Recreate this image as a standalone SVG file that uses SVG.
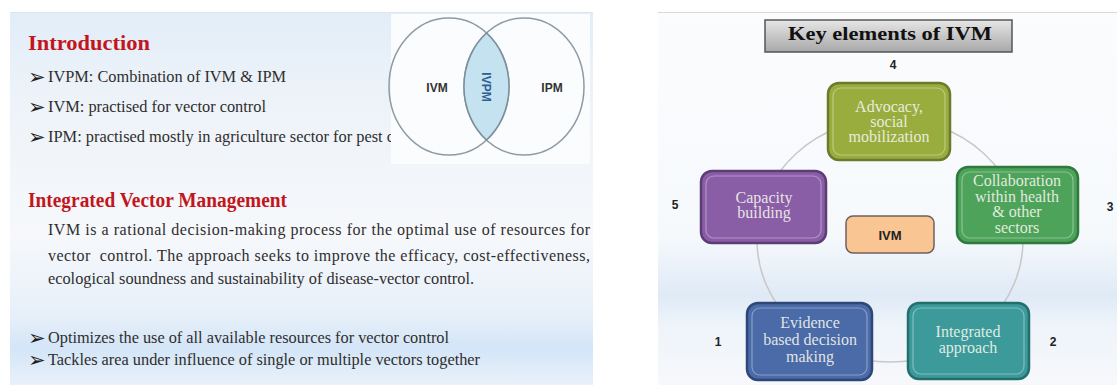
<svg xmlns="http://www.w3.org/2000/svg" width="1117" height="385" viewBox="0 0 1117 385">
<defs>
<linearGradient id="bgL" x1="0" y1="0" x2="0" y2="1">
<stop offset="0" stop-color="#e2edf8"/>
<stop offset="0.25" stop-color="#eef3f9"/>
<stop offset="0.6" stop-color="#f6f8fb"/>
<stop offset="0.82" stop-color="#e6eff9"/>
<stop offset="0.9" stop-color="#d3e5f7"/>
<stop offset="1" stop-color="#e9f1fa"/>
</linearGradient>
<linearGradient id="bgR" x1="0" y1="0" x2="0" y2="1">
<stop offset="0" stop-color="#fbfcfe"/>
<stop offset="0.6" stop-color="#f6f9fc"/>
<stop offset="0.76" stop-color="#dfeaf6"/>
<stop offset="0.84" stop-color="#eef4fa"/>
<stop offset="1" stop-color="#f7f8fb"/>
</linearGradient>
<linearGradient id="title" x1="0" y1="0" x2="0" y2="1">
<stop offset="0" stop-color="#e6e6e6"/>
<stop offset="1" stop-color="#a8a8a8"/>
</linearGradient>
<style>
.h{font-family:"Liberation Serif",serif;font-weight:bold;fill:#c3161c}
.t{font-family:"Liberation Serif",serif;font-size:16px;fill:#2e2e2e}
.ar{font-family:"DejaVu Sans",sans-serif;font-size:21px;fill:#1e1e1e}
.v{font-family:"Liberation Sans",sans-serif;font-weight:bold;font-size:12px;fill:#333;text-anchor:middle;dominant-baseline:central}
.nt{font-family:"Liberation Serif",serif;font-size:16px;text-anchor:middle;fill:#f1f3ea;fill-opacity:0.92}
.num{font-family:"Liberation Sans",sans-serif;font-weight:bold;font-size:12px;fill:#222;text-anchor:middle;dominant-baseline:central}
.box{stroke-width:2.5}
.hl{fill:none;stroke:#ffffff;stroke-opacity:0.35;stroke-width:1.2}
</style>
</defs>
<rect width="1117" height="385" fill="#ffffff"/>
<rect x="10" y="12" width="583" height="373" fill="url(#bgL)"/>
<rect x="658" y="12" width="459" height="373" fill="url(#bgR)"/>
<line x1="658" y1="12.5" x2="1117" y2="12.5" stroke="#d6d9dd" stroke-width="1"/>
<line x1="10" y1="12.5" x2="593" y2="12.5" stroke="#dfe5ec" stroke-width="1"/>

<g id="left-text">
<text class="h" x="28" y="50" font-size="22" textLength="122" lengthAdjust="spacingAndGlyphs">Introduction</text>
<text class="ar" x="28" y="84">➢</text>
<text class="t" x="48" y="82" textLength="238" lengthAdjust="spacingAndGlyphs">IVPM: Combination of IVM &amp; IPM</text>
<text class="ar" x="28" y="114">➢</text>
<text class="t" x="48" y="112" textLength="218" lengthAdjust="spacingAndGlyphs">IVM: practised for vector control</text>
<text class="ar" x="28" y="144">➢</text>
<text class="t" x="48" y="142" textLength="346" lengthAdjust="spacingAndGlyphs">IPM: practised mostly in agriculture sector for pest c</text>
<text class="h" x="28" y="207" font-size="20" textLength="259" lengthAdjust="spacingAndGlyphs">Integrated Vector Management</text>
<text class="t" x="48" y="235" textLength="542" lengthAdjust="spacing">IVM is a rational decision-making process for the optimal use of resources for</text>
<text class="t" x="48" y="261" textLength="542" lengthAdjust="spacing" xml:space="preserve">vector  control. The approach seeks to improve the efficacy, cost-effectiveness,</text>
<text class="t" x="48" y="284" textLength="426" lengthAdjust="spacingAndGlyphs">ecological soundness and sustainability of disease-vector control.</text>
<text class="ar" x="28" y="345">➢</text>
<text class="t" x="48" y="343" textLength="401" lengthAdjust="spacingAndGlyphs">Optimizes the use of all available resources for vector control</text>
<text class="ar" x="28" y="367">➢</text>
<text class="t" x="48" y="365" textLength="432" lengthAdjust="spacingAndGlyphs">Tackles area under influence of single or multiple vectors together</text>
</g>

<g id="venn">
<rect x="391" y="14" width="199" height="150" fill="#fbfcfd"/>
<ellipse cx="449" cy="86.5" rx="60" ry="68.5" fill="none" stroke="#8d9ba6" stroke-width="1.5"/>
<ellipse cx="524" cy="86.5" rx="60" ry="68.5" fill="none" stroke="#8d9ba6" stroke-width="1.5"/>
<path d="M486.5,33 A60,68.5 0 0 1 486.5,140 A60,68.5 0 0 1 486.5,33 Z" fill="#c4e2ef" stroke="#7e8f9b" stroke-width="1.5"/>
<text class="v" x="437" y="88">IVM</text>
<text class="v" x="552" y="88">IPM</text>
<text class="v" x="0" y="0" style="fill:#2f5d94" transform="translate(486,87) rotate(90)">IVPM</text>
</g>

<g id="title-box">
<rect x="765" y="20" width="247" height="32" fill="url(#title)" stroke="#555" stroke-width="1.5"/>
<text x="890" y="40" font-family="Liberation Serif, serif" font-weight="bold" font-size="18" fill="#111" text-anchor="middle" textLength="204" lengthAdjust="spacingAndGlyphs">Key elements of IVM</text>
</g>

<g id="connectors">
<ellipse cx="890" cy="240" rx="133" ry="122" fill="none" stroke="#c8c8c8" stroke-width="1.5"/>
</g>

<g id="node-advocacy" font-family="Liberation Serif, serif">
<rect class="box" x="828" y="83" width="122" height="77" rx="11" fill="#99ad3e" stroke="#6c7a2c"/>
<rect class="hl" x="833" y="88" width="112" height="67" rx="8"/>
<text class="nt" x="889" y="112">Advocacy,</text>
<text class="nt" x="889" y="127">social</text>
<text class="nt" x="889" y="142">mobilization</text>
</g>

<g id="node-collaboration" font-family="Liberation Serif, serif">
<rect class="box" x="957" y="167" width="121" height="76" rx="11" fill="#4ea35b" stroke="#2f7a3c"/>
<rect class="hl" x="962" y="172" width="111" height="66" rx="8"/>
<text class="nt" x="1017" y="186">Collaboration</text>
<text class="nt" x="1017" y="202">within health</text>
<text class="nt" x="1017" y="217">&amp; other</text>
<text class="nt" x="1017" y="233">sectors</text>
</g>

<g id="node-capacity" font-family="Liberation Serif, serif">
<rect class="box" x="701" y="171" width="125" height="72" rx="11" fill="#8a5ea6" stroke="#5c3d76"/>
<rect class="hl" x="706" y="176" width="115" height="62" rx="8"/>
<text class="nt" x="764" y="203">Capacity</text>
<text class="nt" x="764" y="218">building</text>
</g>

<g id="node-ivm">
<rect x="846" y="216" width="88" height="37" rx="7" fill="#f9c593" stroke="#6d6060" stroke-width="1.5"/>
<text class="v" x="890" y="235" style="fill:#222;font-size:13px">IVM</text>
</g>

<g id="node-evidence" font-family="Liberation Serif, serif">
<rect class="box" x="747" y="303" width="125" height="77" rx="11" fill="#4a6aa8" stroke="#2e4779"/>
<rect class="hl" x="752" y="308" width="115" height="67" rx="8"/>
<text class="nt" x="810" y="328">Evidence</text>
<text class="nt" x="810" y="345">based decision</text>
<text class="nt" x="810" y="362">making</text>
</g>

<g id="node-integrated" font-family="Liberation Serif, serif">
<rect class="box" x="908" y="303" width="121" height="76" rx="11" fill="#3c9b9a" stroke="#236f6e"/>
<rect class="hl" x="913" y="308" width="111" height="66" rx="8"/>
<text class="nt" x="968" y="337">Integrated</text>
<text class="nt" x="968" y="353">approach</text>
</g>

<g id="numbers">
<text class="num" x="893" y="65">4</text>
<text class="num" x="675" y="205">5</text>
<text class="num" x="1110" y="207">3</text>
<text class="num" x="718" y="342">1</text>
<text class="num" x="1053" y="342">2</text>
</g>
</svg>
